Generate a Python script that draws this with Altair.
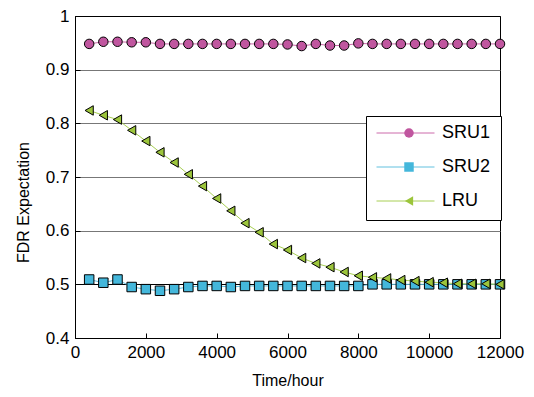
import altair as alt
import pandas as pd

hours = [400, 800, 1200, 1600, 2000, 2400, 2800, 3200, 3600, 4000,
         4400, 4800, 5200, 5600, 6000, 6400, 6800, 7200, 7600, 8000,
         8400, 8800, 9200, 9600, 10000, 10400, 10800, 11200, 11600, 12000]

sru1 = [0.948, 0.952, 0.952, 0.951, 0.951, 0.948, 0.948, 0.948, 0.948, 0.948,
        0.948, 0.948, 0.948, 0.948, 0.947, 0.944, 0.948, 0.945, 0.945, 0.949,
        0.948, 0.948, 0.948, 0.948, 0.948, 0.948, 0.948, 0.948, 0.948, 0.948]

sru2 = [0.509, 0.503, 0.509, 0.495, 0.491, 0.488, 0.491, 0.495, 0.497, 0.497,
        0.495, 0.497, 0.497, 0.497, 0.497, 0.497, 0.497, 0.497, 0.497, 0.497,
        0.500, 0.500, 0.500, 0.500, 0.500, 0.500, 0.500, 0.500, 0.500, 0.500]

lru = [0.824, 0.815, 0.807, 0.787, 0.767, 0.746, 0.727, 0.705, 0.683, 0.660,
       0.637, 0.614, 0.597, 0.575, 0.564, 0.549, 0.539, 0.532, 0.523, 0.516,
       0.513, 0.511, 0.508, 0.506, 0.504, 0.503, 0.501, 0.501, 0.501, 0.500]

series_names = ["SRU1", "SRU2", "LRU"]
marker_keys = ["1", "2", "3"]
line_colors = ["#cc6aab", "#62c1df", "#a8cf55"]
fill_colors = ["#c0569f", "#44b7db", "#9cc53b"]
shapes = ["circle", "square", "triangle-left"]

x_ticks = [0, 2000, 4000, 6000, 8000, 10000, 12000]
y_ticks = [0.4, 0.5, 0.6, 0.7, 0.8, 0.9, 1.0]

rows = []
for name, key, vals in zip(series_names, marker_keys, [sru1, sru2, lru]):
    for h, v in zip(hours, vals):
        rows.append({"hour": h, "value": v, "series": name, "marker": key})
df = pd.DataFrame(rows)

FONT = "Liberation Sans"

x_enc = alt.X("hour:Q",
              scale=alt.Scale(domain=[0, 12000], nice=False),
              axis=alt.Axis(values=x_ticks, title="Time/hour", grid=False,
                            format="d", tickSize={"expr": "-5"}, labelPadding=11,
                            labelOverlap=False, labelFlush=False,
                            titleY=47, titleBaseline="alphabetic"))
y_enc = alt.Y("value:Q",
              scale=alt.Scale(domain=[0.4, 1.0], nice=False, zero=False),
              axis=alt.Axis(values=y_ticks, title="FDR Expectation",
                            labelExpr="datum.value == 1 ? '1' : format(datum.value, '.1f')",
                            tickSize={"expr": "-5"}, labelPadding=11,
                            labelOverlap=False, labelFlush=False,
                            grid=True,
                            gridColor=alt.condition("datum.value <= 0.5 || datum.value >= 1",
                                                    alt.value("black"), alt.value("#777777")),
                            titleX=-47, titleY=186, titleBaseline="alphabetic"))

line_legend = alt.Legend(title=None, orient="none", legendX=291, legendY=100,
                         symbolType="stroke", symbolSize=3364, symbolStrokeWidth=1,
                         clipHeight=14, rowPadding=16, padding=10, labelOffset=7,
                         labelFont=FONT, labelFontSize=18, labelColor="black",
                         strokeColor="black", fillColor="white")

pt_legend = alt.Legend(title=None, orient="none", legendX=291, legendY=100,
                       symbolSize=90, symbolStrokeWidth=1, symbolStrokeColor="black",
                       symbolOpacity=1, symbolOffset=24, clipHeight=14, rowPadding=16,
                       padding=10, labelOffset=7, labelFont=FONT, labelFontSize=18,
                       labelOpacity=0, zindex=5)

lines = alt.Chart(df).mark_line(strokeWidth=1).encode(
    x=x_enc, y=y_enc,
    stroke=alt.Stroke("series:N", scale=alt.Scale(domain=series_names, range=line_colors),
                      legend=line_legend),
)

points = alt.Chart(df).mark_point(filled=True, stroke="black", strokeWidth=1, size=90,
                                  opacity=1).encode(
    x=x_enc, y=y_enc,
    fill=alt.Fill("marker:N", scale=alt.Scale(range=fill_colors), legend=pt_legend),
    shape=alt.Shape("marker:N", scale=alt.Scale(range=shapes), legend=pt_legend),
)

chart = alt.layer(lines, points).properties(
    width=425, height=322,
    autosize=alt.AutoSizeParams(type="none"),
    padding={"left": 67, "top": 8, "right": 26, "bottom": 51},
    background="white",
).configure_view(
    stroke="black", strokeWidth=1
).configure_axis(
    labelFont=FONT, labelFontSize=17, labelColor="black",
    titleFont=FONT, titleFontSize=16, titleFontWeight="normal", titleColor="black",
    domainColor="black", domainWidth=1, tickColor="black", tickWidth=1,
    gridWidth=1,
)

chart.save("out.html", embed_options={"renderer": "svg", "actions": False})
